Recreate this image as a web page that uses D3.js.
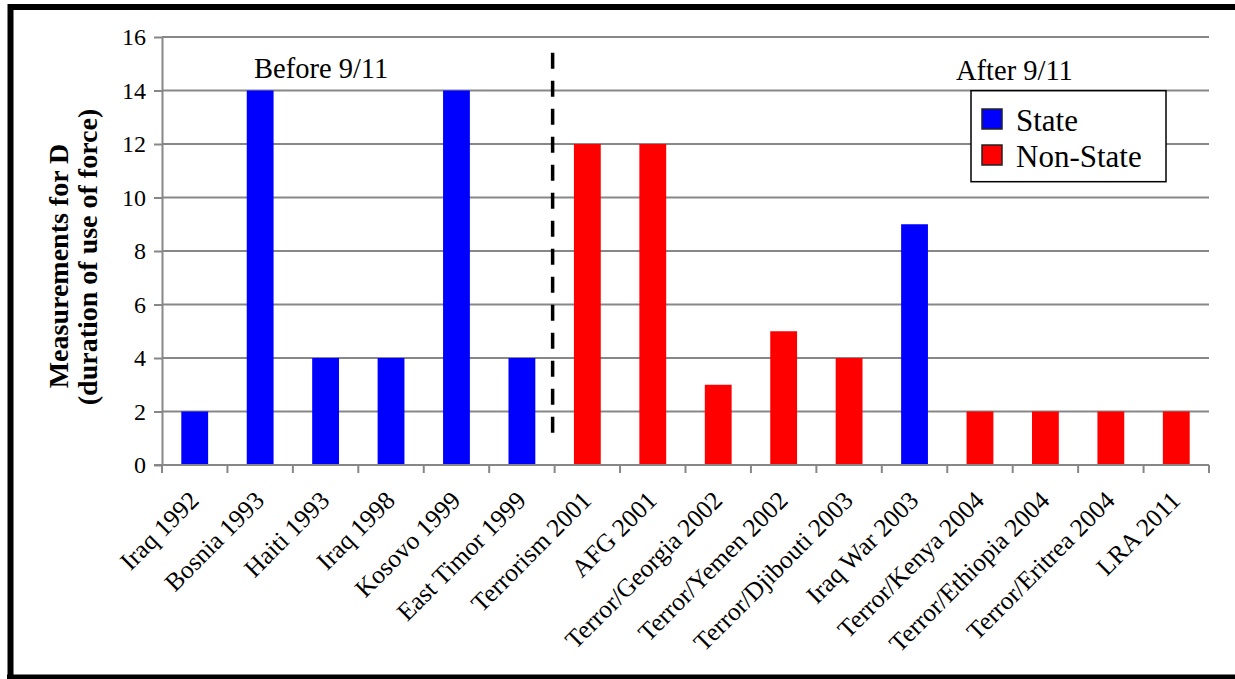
<!DOCTYPE html>
<html>
<head>
<meta charset="utf-8">
<script src="https://cdn.jsdelivr.net/npm/d3@7/dist/d3.min.js"></script>
<style>
  html, body { margin: 0; padding: 0; background: #fff; }
  svg { display: block; }
  svg text { font-family: "Liberation Serif", "Times New Roman", serif; }
</style>
</head>
<body>
<svg id="chart" width="1235" height="679"></svg>
<script>
// Interventions and measured duration of use of force
const categories = [
  "Iraq 1992", "Bosnia 1993", "Haiti 1993", "Iraq 1998", "Kosovo 1999",
  "East Timor 1999", "Terrorism 2001", "AFG 2001", "Terror/Georgia 2002",
  "Terror/Yemen 2002", "Terror/Djibouti 2003", "Iraq War 2003",
  "Terror/Kenya 2004", "Terror/Ethiopia 2004", "Terror/Eritrea 2004", "LRA 2011"
];
const values = [2, 14, 4, 4, 14, 4, 12, 12, 3, 5, 4, 9, 2, 2, 2, 2];
const actorTypes = [
  "State", "State", "State", "State", "State", "State",
  "Non-State", "Non-State", "Non-State", "Non-State", "Non-State",
  "State", "Non-State", "Non-State", "Non-State", "Non-State"
];
const legendKeys = ["State", "Non-State"];
const legendColors = ["#0000ff", "#ff0000"];
const yTicks = [0, 2, 4, 6, 8, 10, 12, 14, 16];
const periodLabels = ["Before 9/11", "After 9/11"];
const yTitle = ["Measurements for D", "(duration of use of force)"];
const splitBefore = "Terrorism 2001";

const svg = d3.select("#chart");
const plot = { left: 162, right: 1209, top: 37, bottom: 465 };

const x = d3.scaleBand().domain(categories).range([plot.left, plot.right]).padding(0);
const y = d3.scaleLinear().domain([0, 16]).range([plot.bottom, plot.top]);
const color = d3.scaleOrdinal().domain(legendKeys).range(legendColors);
const gridColor = "#878787";

// outer frame
svg.append("path")
  .attr("d", `M10.5,677 V7 H1240`)
  .attr("fill", "none").attr("stroke", "#000").attr("stroke-width", 6);
svg.append("line").attr("x1", 7).attr("x2", 1240).attr("y1", 677).attr("y2", 677)
  .attr("stroke", "#000").attr("stroke-width", 5);

// horizontal gridlines
svg.append("g").selectAll("line").data(yTicks.filter(d => d > 0)).join("line")
  .attr("x1", plot.left).attr("x2", plot.right)
  .attr("y1", d => y(d)).attr("y2", d => y(d))
  .attr("stroke", gridColor).attr("stroke-width", 2);

// y axis
const yAxis = svg.append("g").attr("transform", `translate(${plot.left},0)`)
  .call(d3.axisLeft(y).tickValues(yTicks).tickSize(8).tickPadding(8).tickSizeOuter(0));
yAxis.attr("font-family", null);
yAxis.select(".domain").attr("stroke", gridColor).attr("stroke-width", 2);
yAxis.selectAll(".tick line").attr("stroke", gridColor).attr("stroke-width", 2);
yAxis.selectAll(".tick text").attr("font-size", 24).attr("fill", "#000");

// bars
svg.append("g").selectAll("rect").data(categories).join("rect")
  .attr("x", (d) => x(d) + x.bandwidth() * 0.295)
  .attr("width", x.bandwidth() * 0.41)
  .attr("y", (d, i) => y(values[i]))
  .attr("height", (d, i) => y(0) - y(values[i]))
  .attr("fill", (d, i) => color(actorTypes[i]));

// x axis baseline and tick marks at category boundaries
svg.append("line")
  .attr("x1", plot.left - 8).attr("x2", plot.right)
  .attr("y1", y(0)).attr("y2", y(0))
  .attr("stroke", gridColor).attr("stroke-width", 2);
const bounds = categories.map(c => x(c)).concat([plot.right]);
svg.append("g").selectAll("line").data(bounds).join("line")
  .attr("x1", d => d).attr("x2", d => d)
  .attr("y1", y(0)).attr("y2", y(0) + 8)
  .attr("stroke", gridColor).attr("stroke-width", 2);

// rotated category labels
svg.append("g").selectAll("text").data(categories).join("text")
  .attr("transform", d => `translate(${x(d) + x.bandwidth() / 2 + 5.5},${y(0) + 37}) rotate(-45)`)
  .attr("text-anchor", "end")
  .attr("font-size", 25.5)
  .attr("fill", "#000")
  .text(d => d);

// dashed divider between the two periods
const splitX = x(splitBefore) - 2;
svg.append("line")
  .attr("x1", splitX).attr("x2", splitX)
  .attr("y1", 52.7).attr("y2", 433)
  .attr("stroke", "#000").attr("stroke-width", 3.5)
  .attr("stroke-dasharray", "16 12");

// period annotations
svg.append("text").attr("x", 254).attr("y", 78).attr("font-size", 28.5).text(periodLabels[0]);
svg.append("text").attr("x", 956).attr("y", 80).attr("font-size", 28.5).text(periodLabels[1]);

// y-axis title
const yt = svg.append("text")
  .attr("transform", "rotate(-90)")
  .attr("text-anchor", "middle")
  .attr("font-weight", "bold")
  .attr("font-size", 28);
yt.append("tspan").attr("x", -266).attr("y", 68).text(yTitle[0]);
yt.append("tspan").attr("x", -257).attr("y", 97).text(yTitle[1]);

// legend
const lg = svg.append("g");
lg.append("rect").attr("x", 971).attr("y", 90.7).attr("width", 195).attr("height", 91)
  .attr("fill", "#fff").attr("stroke", "#000").attr("stroke-width", 1.5);
legendKeys.forEach((k, i) => {
  const yy = 109 + i * 36;
  lg.append("rect").attr("x", 982).attr("y", yy).attr("width", 20).attr("height", 20)
    .attr("fill", color(k)).attr("stroke", "#222").attr("stroke-width", 1.5);
  lg.append("text").attr("x", 1016).attr("y", yy + 22).attr("font-size", 31).text(k);
});
</script>
</body>
</html>
